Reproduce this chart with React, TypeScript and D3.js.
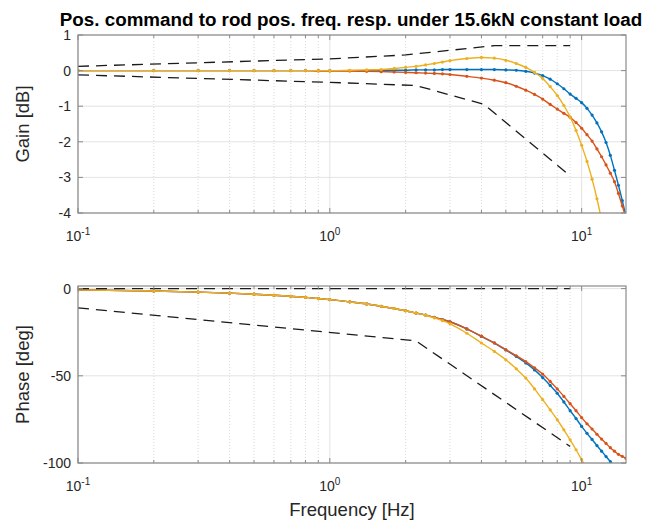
import React from "react";
import * as d3 from "d3";

// frequency points (Hz)
const freq = [0.1, 0.2, 0.3, 0.4, 0.5, 0.6, 0.7, 0.8, 0.9, 1.0, 1.2, 1.4, 1.6, 1.8, 2.0, 2.2, 2.4, 2.6, 2.8, 3.0,
  3.5, 4, 4.5, 5, 5.5, 6, 6.5, 7, 7.5, 8, 8.5, 9, 9.5, 10, 10.5, 11, 11.5, 12, 12.5, 13, 13.5, 14, 14.5, 15];

// gain [dB]
const gainBlue = [0, 0, 0, 0, 0, 0, 0, 0, 0, 0,
  0, 0, 0.01, 0.01, 0.01, 0.02, 0.02, 0.02, 0.03, 0.03,
  0.03, 0.03, 0.03, 0.02, 0.01, -0.02, -0.07, -0.14, -0.24, -0.37, -0.51, -0.66, -0.78, -0.9, -1.06, -1.25, -1.47, -1.72, -2.02, -2.38, -2.8, -3.22, -3.65, -4.1];
const gainOrange = [0, 0, 0, 0, 0, 0, 0, 0, -0.01, -0.01,
  -0.01, -0.02, -0.03, -0.04, -0.05, -0.06, -0.07, -0.08, -0.09, -0.11,
  -0.16, -0.21, -0.27, -0.34, -0.44, -0.55, -0.67, -0.8, -0.95, -1.08, -1.2, -1.31, -1.46, -1.62, -1.8, -1.98, -2.2, -2.42, -2.65, -2.88, -3.12, -3.45, -3.8, -4.15];
const gainYellow = [0, 0, 0, 0, 0, 0, 0, 0, 0, 0,
  0.01, 0.02, 0.03, 0.06, 0.09, 0.12, 0.16, 0.2, 0.24, 0.28,
  0.34, 0.37, 0.35, 0.29, 0.2, 0.09, -0.05, -0.22, -0.45, -0.7, -0.98, -1.3, -1.68, -2.1, -2.55, -3.05, -3.6, -4.2, -4.85];

// phase [deg]
const phaseBlue = [-0.7, -1.4, -2.0, -2.6, -3.2, -3.8, -4.4, -5.0, -5.7, -6.3,
  -7.6, -8.8, -10.1, -11.4, -12.7, -14.0, -15.2, -16.5, -17.7, -19.0,
  -23.1, -27.4, -31.2, -35.2, -38.9, -42.6, -46.6, -51, -55.5, -60, -65, -70, -74.5, -79, -83, -86.5, -90, -93.2, -96.3, -99.2, -102, -104.5];
const phaseOrange = [-0.7, -1.4, -2.0, -2.6, -3.2, -3.8, -4.4, -5.0, -5.7, -6.3,
  -7.6, -8.8, -10.1, -11.4, -12.7, -14.0, -15.2, -16.5, -17.7, -19.0,
  -23.1, -27.3, -31.1, -35, -38.5, -41.9, -45.4, -49, -53.2, -57.5, -61.8, -66, -70, -74, -77.5, -80.5, -83.5, -86.3, -88.8, -91.2, -93.2, -95, -96.2, -97.3];
const phaseYellow = [-0.7, -1.4, -2.0, -2.6, -3.2, -3.8, -4.4, -5.0, -5.7, -6.3,
  -7.6, -8.8, -10.1, -11.4, -12.7, -14.0, -15.3, -16.8, -18.4, -20.2,
  -25.6, -31.2, -36, -40.8, -46, -51.3, -57.5, -63.7, -69.5, -75.2, -81, -86.7, -92.4, -98.1, -103.5];

// dashed requirement bounds
const gainUpperF = [0.1, 1, 2, 4.5, 9];
const gainUpperV = [0.12, 0.33, 0.44, 0.7, 0.7];
const gainLowerF = [0.1, 1, 2.2, 4.1, 8.8];
const gainLowerV = [-0.12, -0.33, -0.42, -0.95, -2.9];
const phaseUpperF = [0.1, 9];
const phaseUpperV = [0, 0];
const phaseLowerF = [0.1, 2.2, 9];
const phaseLowerV = [-11, -30, -90.5];

const gainTicks = [-4, -3, -2, -1, 0, 1];
const phaseTicks = [-100, -50, 0];
const majorX = [0.1, 1, 10];
const expLabels = ["-1", "0", "1"];
const minorX = [0.2, 0.3, 0.4, 0.5, 0.6, 0.7, 0.8, 0.9, 2, 3, 4, 5, 6, 7, 8, 9];

const BLUE = "#0072BD";
const ORANGE = "#D95319";
const YELLOW = "#EDB120";
const FONT = "'Liberation Sans', Arial, Helvetica, sans-serif";
const TXT = "#262626";

const left = 78;
const right = 626;
const x = d3.scaleLog().domain([0.1, 15]).range([left, right]);

type Series = { values: number[]; color: string };
type Bound = { f: number[]; v: number[] };

function Panel(props: {
  id: string;
  top: number;
  bottom: number;
  y: d3.ScaleLinear<number, number>;
  ticks: number[];
  series: Series[];
  bounds: Bound[];
  label: string;
}) {
  const { id, top, bottom, y, ticks, series, bounds, label } = props;
  const line = d3.line<[number, number]>().x(d => x(d[0])).y(d => y(d[1])).curve(d3.curveMonotoneX);
  const straight = d3.line<[number, number]>().x(d => x(d[0])).y(d => y(d[1]));
  const midY = (top + bottom) / 2;

  return (
    <g>
      <defs>
        <clipPath id={id}>
          <rect x={left} y={top} width={right - left} height={bottom - top} />
        </clipPath>
      </defs>
      <rect x={left} y={top} width={right - left} height={bottom - top} fill="#fff" />
      {/* grid */}
      {minorX.map(t => (
        <line key={"mg" + t} x1={x(t)} x2={x(t)} y1={top} y2={bottom} stroke="#d0d0d0" strokeWidth={0.8} strokeDasharray="1,2" />
      ))}
      {majorX.map(t => (
        <line key={"Mg" + t} x1={x(t)} x2={x(t)} y1={top} y2={bottom} stroke="#e3e3e3" strokeWidth={1} />
      ))}
      {ticks.map(t => (
        <line key={"hg" + t} x1={left} x2={right} y1={y(t)} y2={y(t)} stroke="#e3e3e3" strokeWidth={1} />
      ))}
      {/* data */}
      <g clipPath={`url(#${id})`}>
        {series.map((s, i) => {
          const pts = s.values.map((v, k) => [freq[k], v] as [number, number]);
          return (
            <g key={i}>
              <path d={line(pts) || ""} fill="none" stroke={s.color} strokeWidth={1.4} />
              {pts.map((p, k) => (
                <circle key={k} cx={x(p[0])} cy={y(p[1])} r={1.6} fill={s.color} />
              ))}
            </g>
          );
        })}
        {bounds.map((b, i) => (
          <path key={"b" + i} d={straight(b.f.map((f, k) => [f, b.v[k]] as [number, number])) || ""}
            fill="none" stroke="#1a1a1a" strokeWidth={1.3} strokeDasharray="11,7" />
        ))}
      </g>
      {/* frame and ticks */}
      <rect x={left} y={top} width={right - left} height={bottom - top} fill="none" stroke="#8a8a8a" strokeWidth={1.2} />
      {ticks.map(t => (
        <g key={"yt" + t}>
          <line x1={left} x2={left + 5} y1={y(t)} y2={y(t)} stroke="#8a8a8a" />
          <line x1={right} x2={right - 5} y1={y(t)} y2={y(t)} stroke="#8a8a8a" />
          <text x={left - 7} y={y(t)} dy="0.36em" textAnchor="end" fontSize={14} fill={TXT} fontFamily={FONT}>{t}</text>
        </g>
      ))}
      {minorX.map(t => (
        <g key={"mt" + t}>
          <line x1={x(t)} x2={x(t)} y1={bottom} y2={bottom - 3} stroke="#8a8a8a" />
          <line x1={x(t)} x2={x(t)} y1={top} y2={top + 3} stroke="#8a8a8a" />
        </g>
      ))}
      {majorX.map((t, i) => (
        <g key={"xt" + t}>
          <line x1={x(t)} x2={x(t)} y1={bottom} y2={bottom - 5} stroke="#8a8a8a" />
          <line x1={x(t)} x2={x(t)} y1={top} y2={top + 5} stroke="#8a8a8a" />
          <text x={x(t)} y={bottom + 28} textAnchor="middle" fontSize={14} fill={TXT} fontFamily={FONT}>
            10<tspan dy={-6} fontSize={10}>{expLabels[i]}</tspan>
          </text>
        </g>
      ))}
      <text transform={`translate(29,${midY}) rotate(-90)`} textAnchor="middle" fontSize={18.5} fill={TXT} fontFamily={FONT}>{label}</text>
    </g>
  );
}

export default function App() {
  const yGain = d3.scaleLinear().domain([-4, 1]).range([213, 35]);
  const yPhase = d3.scaleLinear().domain([-100, 1.5]).range([463, 286]);
  return (
    <svg width={645} height={523} style={{ display: "block", position: "absolute", left: 0, top: 0, background: "#fff" }}>
      <rect width={645} height={523} fill="#fff" />
      <text x={351} y={26} textAnchor="middle" fontSize={18.8} fontWeight="bold" fill="#000" fontFamily={FONT}>
        Pos. command to rod pos. freq. resp. under 15.6kN constant load
      </text>
      <Panel id="clipGain" top={35} bottom={213} y={yGain} ticks={gainTicks}
        series={[{ values: gainBlue, color: BLUE }, { values: gainOrange, color: ORANGE }, { values: gainYellow, color: YELLOW }]}
        bounds={[{ f: gainUpperF, v: gainUpperV }, { f: gainLowerF, v: gainLowerV }]}
        label="Gain [dB]" />
      <Panel id="clipPhase" top={286} bottom={463} y={yPhase} ticks={phaseTicks}
        series={[{ values: phaseBlue, color: BLUE }, { values: phaseOrange, color: ORANGE }, { values: phaseYellow, color: YELLOW }]}
        bounds={[{ f: phaseUpperF, v: phaseUpperV }, { f: phaseLowerF, v: phaseLowerV }]}
        label="Phase [deg]" />
      <text x={352} y={516} textAnchor="middle" fontSize={18.5} fill={TXT} fontFamily={FONT}>Frequency [Hz]</text>
    </svg>
  );
}
